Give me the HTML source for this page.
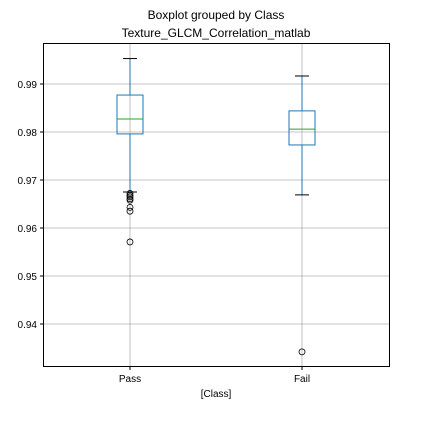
<!DOCTYPE html>
<html><head><style>body{margin:0;background:#fff}svg{font-family:"Liberation Sans","DejaVu Sans",sans-serif}</style></head>
<body>
<svg width="432" height="432" id="c">
<text x="216" y="19" text-anchor="middle" font-size="12">Boxplot grouped by Class</text>
<text x="216" y="37" text-anchor="middle" font-size="12">Texture_GLCM_Correlation_matlab</text>
<text x="216" y="397" text-anchor="middle" font-size="10">[Class]</text>
<g id="g"></g>
<rect x="43.5" y="43.5" width="346" height="323" fill="none" stroke="#000" stroke-width="1"/>
</svg>
<script>
const categories=["Pass","Fail"];
const whiskHi=[0.9953,0.99167];
const q3=[0.9877,0.9844];
const med=[0.9827,0.9806];
const q1=[0.9796,0.9773];
const whiskLo=[0.9675,0.9669];
const outliers=[[0.9672,0.9668,0.9665,0.9661,0.9658,0.9643,0.9635,0.9571],[0.9342]];
const yTicks=[0.94,0.95,0.96,0.97,0.98,0.99];
const NS="http://www.w3.org/2000/svg",g=document.getElementById('g');
const y=v=>132-(v-0.98)*4800;
const x=i=>130+i*172;
function mk(t,a){const e=document.createElementNS(NS,t);for(const k in a)e.setAttribute(k,a[k]);g.appendChild(e);return e;}
yTicks.forEach(v=>{const yy=y(v);
let e=mk('line',{x1:43.5,x2:389.5,y1:yy,y2:yy,stroke:'#b0b0b0','stroke-width':0.8});

e=mk('line',{x1:40,x2:43.5,y1:yy,y2:yy,stroke:'#000'});

const t=mk('text',{x:37,y:yy+4,'text-anchor':'end','font-size':10});t.textContent=v.toFixed(2);
});
categories.forEach((c,i)=>{const xx=x(i);
let e=mk('line',{x1:xx,x2:xx,y1:43.5,y2:366.5,stroke:'#b0b0b0','stroke-width':0.8});

e=mk('line',{x1:xx,x2:xx,y1:366.5,y2:370,stroke:'#000'});

const t=mk('text',{x:xx,y:382,'text-anchor':'middle','font-size':10});t.textContent=c;

e=mk('line',{x1:xx,x2:xx,y1:y(whiskHi[i]),y2:y(q3[i]),stroke:'#1f77b4','stroke-width':1});

e=mk('line',{x1:xx,x2:xx,y1:y(q1[i]),y2:y(whiskLo[i]),stroke:'#1f77b4','stroke-width':1});

e=mk('rect',{x:xx-13,y:y(q3[i]),width:26,height:y(q1[i])-y(q3[i]),fill:'none',stroke:'#1f77b4','stroke-width':1});

e=mk('line',{x1:xx-13,x2:xx+13,y1:y(med[i]),y2:y(med[i]),stroke:'#2ca02c','stroke-width':1});

[whiskHi[i],whiskLo[i]].forEach(v=>{e=mk('line',{x1:xx-7,x2:xx+7,y1:y(v),y2:y(v),stroke:'#000','stroke-width':1});
});
outliers[i].forEach(v=>{e=mk('circle',{cx:xx,cy:y(v),r:3,fill:'none',stroke:'#000','stroke-width':0.8});
});
});
</script>
</body></html>
